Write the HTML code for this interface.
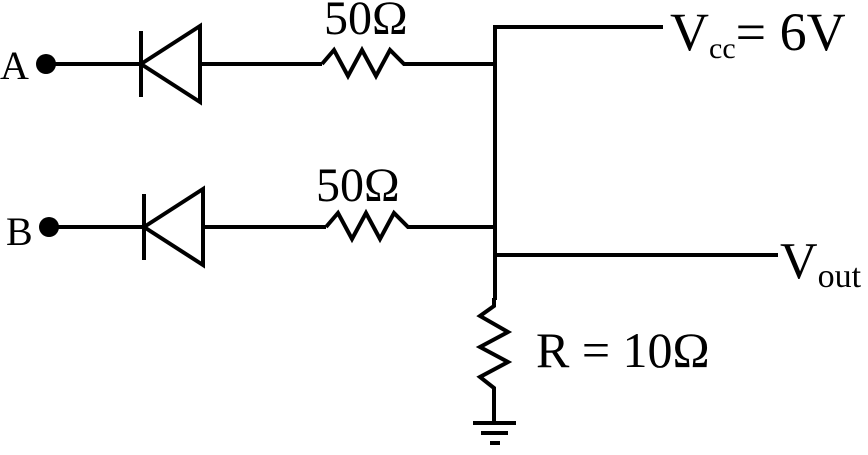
<!DOCTYPE html>
<html><head><style>
html,body{margin:0;padding:0;background:#fff;}
svg{display:block;}
text{font-family:"Liberation Serif",serif;fill:#000;}
</style></head><body>
<svg width="868" height="455" viewBox="0 0 868 455">
<g stroke="#000" stroke-width="4" fill="none" stroke-linejoin="miter">
<!-- A row -->
<line x1="46" y1="64" x2="141" y2="64"/>
<line x1="141" y1="31" x2="141" y2="97"/>
<polygon points="141,64 200,26 200,102"/>
<line x1="200" y1="64" x2="322" y2="64"/>
<polyline points="322,64 334,50 348,76 362,50 376,76 390,50 404,64 495,64"/>
<!-- B row -->
<line x1="49" y1="227" x2="144" y2="227"/>
<line x1="144" y1="194" x2="144" y2="260"/>
<polygon points="144,227 203,189 203,265"/>
<line x1="203" y1="227" x2="326" y2="227"/>
<polyline points="326,227 338,213 352,239 366,213 380,239 394,213 408,227 495,227"/>
<!-- vertical bus -->
<polyline points="663,27 495,27 495,300"/>
<line x1="495" y1="255" x2="778" y2="255"/>
<!-- vertical resistor -->
<polyline points="494,298 494,306 480,316 508,332 480,347 508,362 480,377 494,388 494,423"/>
<line x1="473" y1="423" x2="516" y2="423"/>
<line x1="481" y1="433" x2="508" y2="433"/>
<line x1="490" y1="443" x2="500" y2="443"/>
</g>
<circle cx="46" cy="64" r="10" fill="#000"/>
<circle cx="49" cy="227" r="10" fill="#000"/>
<text x="0" y="79" font-size="40">A</text>
<text x="6" y="245" font-size="40">B</text>
<text x="324" y="34" font-size="48">50Ω</text>
<text x="316" y="201" font-size="48">50Ω</text>
<text x="670" y="50" font-size="54">V<tspan font-size="30" dy="8">cc</tspan><tspan dy="-8">= 6V</tspan></text>
<text x="780" y="278" font-size="52">V<tspan font-size="34" dy="9">out</tspan></text>
<text x="536" y="367" font-size="50">R = 10Ω</text>
</svg>
</body></html>
